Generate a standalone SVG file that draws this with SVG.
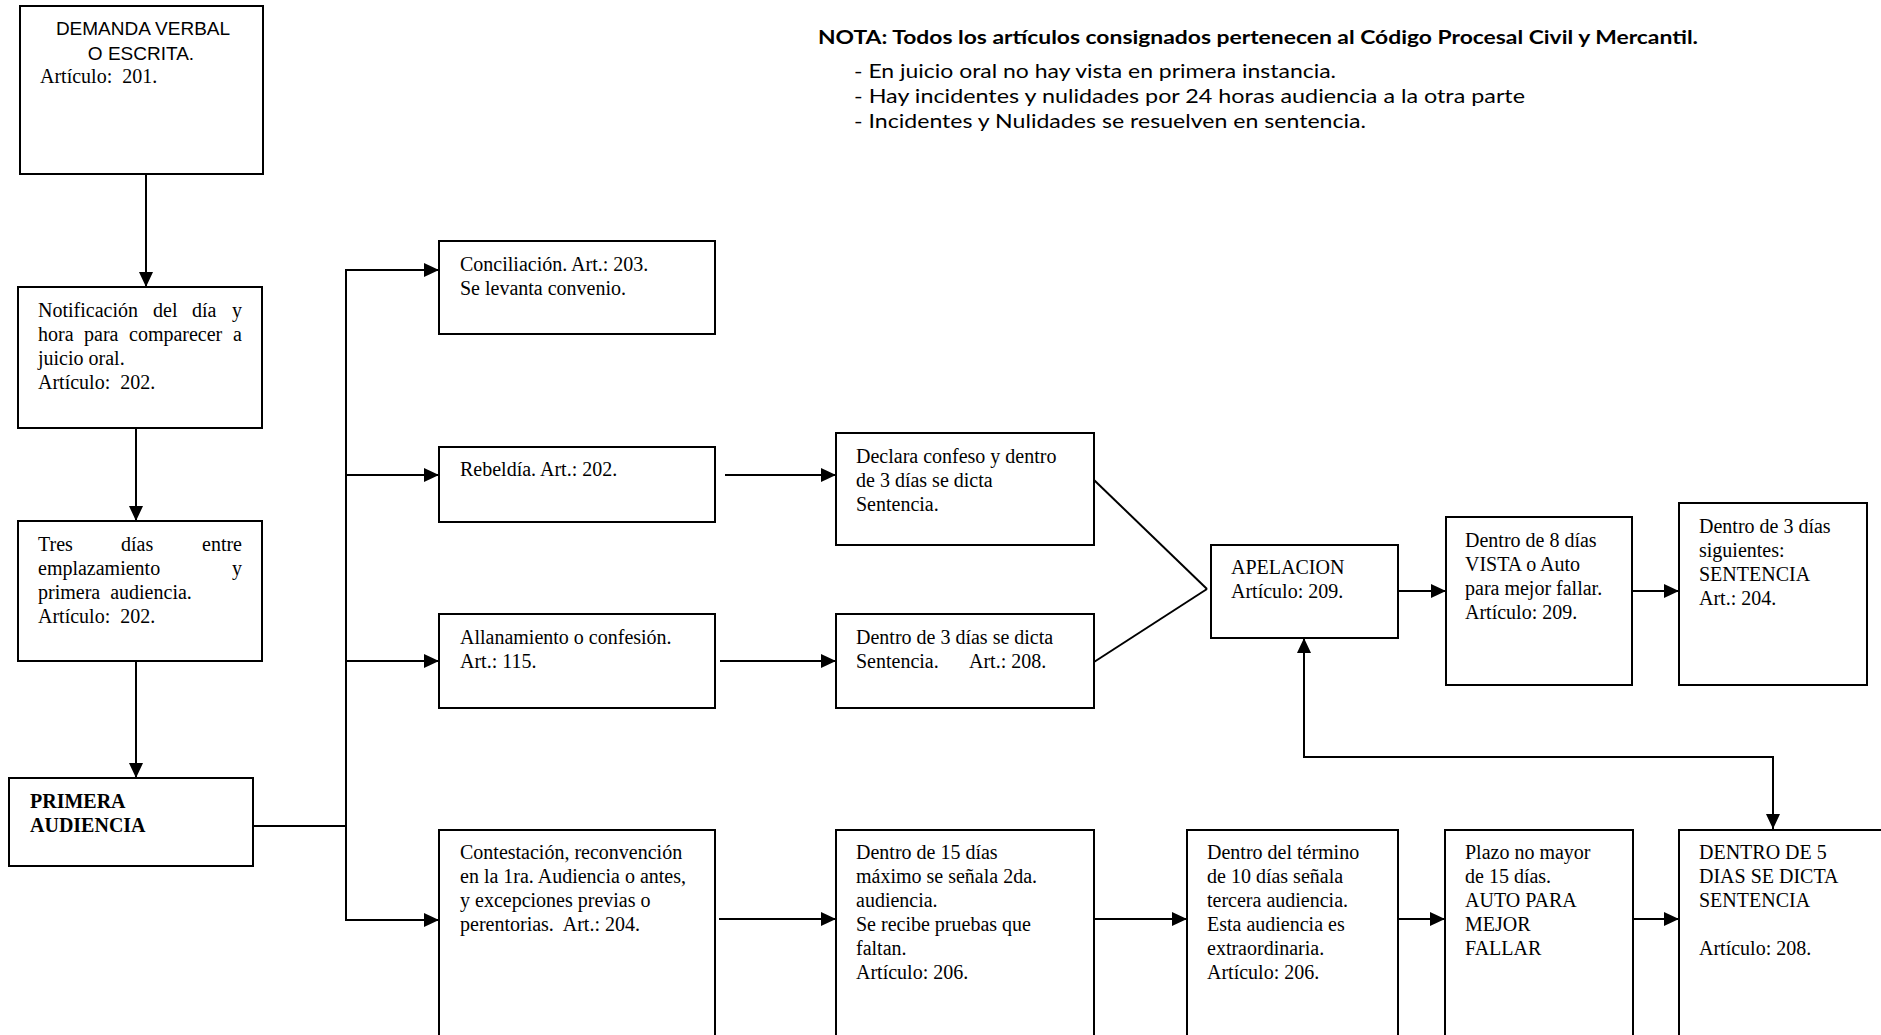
<svg xmlns="http://www.w3.org/2000/svg" width="1881" height="1035" viewBox="0 0 1881 1035">
<defs>
<style>
.box{fill:#fff;stroke:#000;stroke-width:2}
.t{font-family:"Liberation Serif","Times New Roman",serif;font-size:20px;fill:#000}
.b{font-weight:bold}
.s{font-family:"Liberation Sans",Arial,sans-serif;font-size:19px;fill:#000}
.n{font-family:Lato,"Open Sans",sans-serif;font-size:19px;fill:#000}
.c{fill:none;stroke:#000;stroke-width:2}
</style>
<marker id="ah" markerUnits="userSpaceOnUse" markerWidth="16" markerHeight="14" refX="15" refY="7" orient="auto-start-reverse">
<path d="M0,0 L15,7 L0,14 z" fill="#000"/>
</marker>
</defs>
<rect width="1881" height="1035" fill="#fff"/>

<g id="nota">
<text class="n b" x="818" y="44" textLength="880" lengthAdjust="spacingAndGlyphs">NOTA: Todos los artículos consignados pertenecen al Código Procesal Civil y Mercantil.</text>
<text class="n" x="854" y="78" textLength="482" lengthAdjust="spacingAndGlyphs">- En juicio oral no hay vista en primera instancia.</text>
<text class="n" x="854" y="103" textLength="671" lengthAdjust="spacingAndGlyphs">- Hay incidentes y nulidades por 24 horas audiencia a la otra parte</text>
<text class="n" x="854" y="128" textLength="512" lengthAdjust="spacingAndGlyphs">- Incidentes y Nulidades se resuelven en sentencia.</text>
</g>

<g id="connectors">
<line class="c" x1="146" y1="174" x2="146" y2="287" marker-end="url(#ah)"/>
<line class="c" x1="136" y1="428" x2="136" y2="521" marker-end="url(#ah)"/>
<line class="c" x1="136" y1="661" x2="136" y2="778" marker-end="url(#ah)"/>
<line class="c" x1="253" y1="826" x2="346" y2="826"/>
<line class="c" x1="346" y1="269" x2="346" y2="921"/>
<line class="c" x1="345" y1="270" x2="439" y2="270" marker-end="url(#ah)"/>
<line class="c" x1="345" y1="475" x2="439" y2="475" marker-end="url(#ah)"/>
<line class="c" x1="345" y1="661" x2="439" y2="661" marker-end="url(#ah)"/>
<line class="c" x1="345" y1="920" x2="439" y2="920" marker-end="url(#ah)"/>
<line class="c" x1="725" y1="475" x2="836" y2="475" marker-end="url(#ah)"/>
<line class="c" x1="720" y1="661" x2="836" y2="661" marker-end="url(#ah)"/>
<line class="c" x1="1094" y1="480" x2="1207" y2="589"/>
<line class="c" x1="1094" y1="662" x2="1207" y2="589"/>
<line class="c" x1="1398" y1="591" x2="1446" y2="591" marker-end="url(#ah)"/>
<line class="c" x1="1632" y1="591" x2="1679" y2="591" marker-end="url(#ah)"/>
<line class="c" x1="719" y1="919" x2="836" y2="919" marker-end="url(#ah)"/>
<line class="c" x1="1094" y1="919" x2="1187" y2="919" marker-end="url(#ah)"/>
<line class="c" x1="1398" y1="919" x2="1445" y2="919" marker-end="url(#ah)"/>
<line class="c" x1="1633" y1="919" x2="1679" y2="919" marker-end="url(#ah)"/>
<path class="c" d="M1304,638 L1304,757 L1773,757 L1773,829" marker-start="url(#ah)" marker-end="url(#ah)"/>
</g>

<g id="n-demanda">
<rect class="box" x="20" y="6" width="243" height="168"/>
<text class="s" x="143" y="35" text-anchor="middle">DEMANDA VERBAL</text>
<text class="s" x="141" y="60" text-anchor="middle">O ESCRITA.</text>
<text class="t" x="40" y="83" xml:space="preserve">Artículo:  201.</text>
</g>

<g id="n-notificacion">
<rect class="box" x="18" y="287" width="244" height="141"/>
<text class="t" y="317"><tspan x="38">Notificación</tspan><tspan x="153">del</tspan><tspan x="192">día</tspan><tspan x="242" text-anchor="end">y</tspan></text>
<text class="t" y="341"><tspan x="38">hora</tspan><tspan x="84">para</tspan><tspan x="129">comparecer</tspan><tspan x="242" text-anchor="end">a</tspan></text>
<text class="t" x="38" y="365">juicio oral.</text>
<text class="t" x="38" y="389" xml:space="preserve">Artículo:  202.</text>
</g>

<g id="n-tres">
<rect class="box" x="18" y="521" width="244" height="140"/>
<text class="t" y="551"><tspan x="38">Tres</tspan><tspan x="121">días</tspan><tspan x="242" text-anchor="end">entre</tspan></text>
<text class="t" y="575"><tspan x="38">emplazamiento</tspan><tspan x="242" text-anchor="end">y</tspan></text>
<text class="t" x="38" y="599" xml:space="preserve">primera  audiencia.</text>
<text class="t" x="38" y="623" xml:space="preserve">Artículo:  202.</text>
</g>

<g id="n-primera">
<rect class="box" x="9" y="778" width="244" height="88"/>
<text class="t b" x="30" y="808">PRIMERA</text>
<text class="t b" x="30" y="832">AUDIENCIA</text>
</g>

<g id="n-conciliacion">
<rect class="box" x="439" y="241" width="276" height="93"/>
<text class="t" x="460" y="271">Conciliación. Art.: 203.</text>
<text class="t" x="460" y="295">Se levanta convenio.</text>
</g>

<g id="n-rebeldia">
<rect class="box" x="439" y="447" width="276" height="75"/>
<text class="t" x="460" y="476">Rebeldía. Art.: 202.</text>
</g>

<g id="n-allanamiento">
<rect class="box" x="439" y="614" width="276" height="94"/>
<text class="t" x="460" y="644">Allanamiento o confesión.</text>
<text class="t" x="460" y="668">Art.: 115.</text>
</g>

<g id="n-contestacion">
<rect class="box" x="439" y="830" width="276" height="220"/>
<text class="t" x="460" y="859">Contestación, reconvención</text>
<text class="t" x="460" y="883">en la 1ra. Audiencia o antes,</text>
<text class="t" x="460" y="907">y excepciones previas o</text>
<text class="t" x="460" y="931" xml:space="preserve">perentorias.  Art.: 204.</text>
</g>

<g id="n-declara">
<rect class="box" x="836" y="433" width="258" height="112"/>
<text class="t" x="856" y="463">Declara confeso y dentro</text>
<text class="t" x="856" y="487">de 3 días se dicta</text>
<text class="t" x="856" y="511">Sentencia.</text>
</g>

<g id="n-dentro3">
<rect class="box" x="836" y="614" width="258" height="94"/>
<text class="t" x="856" y="644">Dentro de 3 días se dicta</text>
<text class="t" y="668"><tspan x="856">Sentencia.</tspan><tspan x="969">Art.: 208.</tspan></text>
</g>

<g id="n-dentro15">
<rect class="box" x="836" y="830" width="258" height="220"/>
<text class="t" x="856" y="859">Dentro de 15 días</text>
<text class="t" x="856" y="883">máximo se señala 2da.</text>
<text class="t" x="856" y="907">audiencia.</text>
<text class="t" x="856" y="931">Se recibe pruebas que</text>
<text class="t" x="856" y="955">faltan.</text>
<text class="t" x="856" y="979">Artículo: 206.</text>
</g>

<g id="n-apelacion">
<rect class="box" x="1211" y="545" width="187" height="93"/>
<text class="t" x="1231" y="574">APELACION</text>
<text class="t" x="1231" y="598">Artículo: 209.</text>
</g>

<g id="n-dentro8">
<rect class="box" x="1446" y="517" width="186" height="168"/>
<text class="t" x="1465" y="547">Dentro de 8 días</text>
<text class="t" x="1465" y="571">VISTA o Auto</text>
<text class="t" x="1465" y="595">para mejor fallar.</text>
<text class="t" x="1465" y="619">Artículo: 209.</text>
</g>

<g id="n-dentro3sig">
<rect class="box" x="1679" y="503" width="188" height="182"/>
<text class="t" x="1699" y="533">Dentro de 3 días</text>
<text class="t" x="1699" y="557">siguientes:</text>
<text class="t" x="1699" y="581">SENTENCIA</text>
<text class="t" x="1699" y="605">Art.: 204.</text>
</g>

<g id="n-termino">
<rect class="box" x="1187" y="830" width="211" height="220"/>
<text class="t" x="1207" y="859">Dentro del término</text>
<text class="t" x="1207" y="883">de 10 días señala</text>
<text class="t" x="1207" y="907">tercera audiencia.</text>
<text class="t" x="1207" y="931">Esta audiencia es</text>
<text class="t" x="1207" y="955">extraordinaria.</text>
<text class="t" x="1207" y="979">Artículo: 206.</text>
</g>

<g id="n-plazo">
<rect class="box" x="1445" y="830" width="188" height="220"/>
<text class="t" x="1465" y="859">Plazo no mayor</text>
<text class="t" x="1465" y="883">de 15 días.</text>
<text class="t" x="1465" y="907">AUTO PARA</text>
<text class="t" x="1465" y="931">MEJOR</text>
<text class="t" x="1465" y="955">FALLAR</text>
</g>

<g id="n-dentro5">
<rect class="box" x="1679" y="830" width="230" height="220"/>
<text class="t" x="1699" y="859">DENTRO DE 5</text>
<text class="t" x="1699" y="883">DIAS SE DICTA</text>
<text class="t" x="1699" y="907">SENTENCIA</text>
<text class="t" x="1699" y="955">Artículo: 208.</text>
</g>
</svg>
